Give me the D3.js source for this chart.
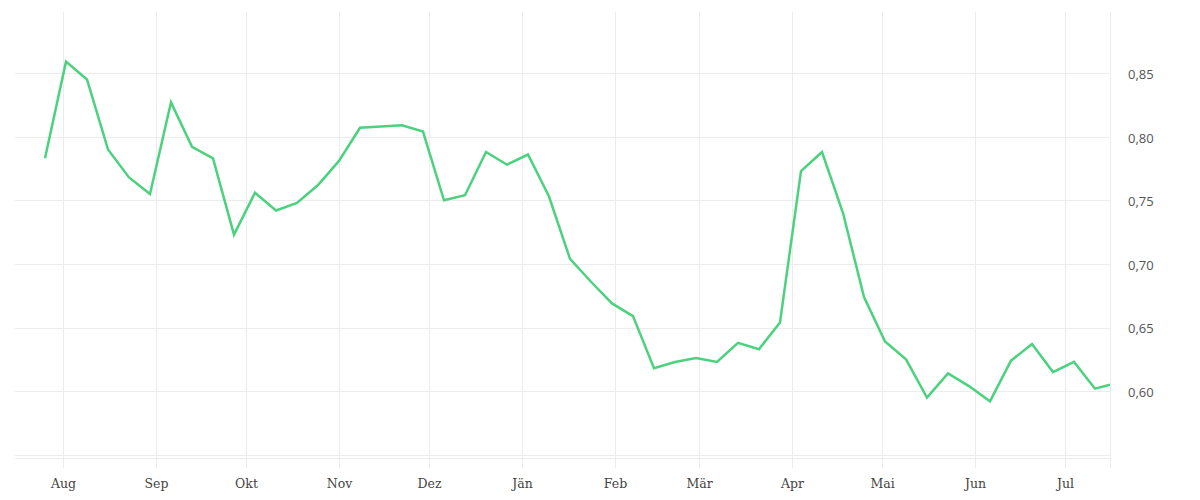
<!DOCTYPE html>
<html>
<head>
	<meta charset="utf-8">
	<script src="https://cdn.jsdelivr.net/npm/d3@7"></script>
	<style>
		html, body {
			padding: 0;
			margin: 0;
			background: #fff;
		}
	</style>
</head>
<body>
	<script>
		var width = 1200,
			height = 500;

		/* data (weekly values) */
		var dates = [
			"2022-07-26", "2022-08-02", "2022-08-09", "2022-08-16", "2022-08-23", "2022-08-30",
			"2022-09-06", "2022-09-13", "2022-09-20", "2022-09-27", "2022-10-04", "2022-10-11",
			"2022-10-18", "2022-10-25", "2022-11-01", "2022-11-08", "2022-11-15", "2022-11-22",
			"2022-11-29", "2022-12-06", "2022-12-13", "2022-12-20", "2022-12-27", "2023-01-03",
			"2023-01-10", "2023-01-17", "2023-01-24", "2023-01-31", "2023-02-07", "2023-02-14",
			"2023-02-21", "2023-02-28", "2023-03-07", "2023-03-14", "2023-03-21", "2023-03-28",
			"2023-04-04", "2023-04-11", "2023-04-18", "2023-04-25", "2023-05-02", "2023-05-09",
			"2023-05-16", "2023-05-23", "2023-05-30", "2023-06-06", "2023-06-13", "2023-06-20",
			"2023-06-27", "2023-07-04", "2023-07-11", "2023-07-16"
		];
		var values = [
			0.783, 0.859, 0.845, 0.790, 0.768, 0.755,
			0.827, 0.792, 0.783, 0.723, 0.756, 0.742,
			0.748, 0.762, 0.781, 0.807, 0.808, 0.809,
			0.804, 0.750, 0.754, 0.788, 0.778, 0.786,
			0.753, 0.704, 0.686, 0.669, 0.659, 0.618,
			0.623, 0.626, 0.623, 0.638, 0.633, 0.654,
			0.773, 0.788, 0.740, 0.674, 0.639, 0.625,
			0.595, 0.614, 0.604, 0.592, 0.624, 0.637,
			0.615, 0.623, 0.602, 0.605
		];
		var monthLabels = ["Jän", "Feb", "Mär", "Apr", "Mai", "Jun", "Jul", "Aug", "Sep", "Okt", "Nov", "Dez"];
		var yGridTicks = [0.55, 0.60, 0.65, 0.70, 0.75, 0.80, 0.85];
		var yLabelTicks = [0.60, 0.65, 0.70, 0.75, 0.80, 0.85];
		var xDomain = ["2022-07-16", "2023-07-16"];
		var yDomain = [0.5475, 0.898];

		var parse = d3.timeParse("%Y-%m-%d");
		var points = dates.map(function(d, i) {
			return { date: parse(d), value: values[i] };
		});

		var plotLeft = 15, plotRight = 1110, plotTop = 12, plotBottom = 458;

		var svg = d3.select("body").append("svg")
			.attr("width", width)
			.attr("height", height);

		var x = d3.scaleTime()
			.domain(xDomain.map(parse))
			.range([plotLeft, plotRight]);

		var y = d3.scaleLinear()
			.domain(yDomain)
			.range([plotBottom, plotTop]);

		var gridColor = "#ececec";

		/* horizontal grid */
		svg.append("g")
			.selectAll("line")
			.data(yGridTicks)
			.join("line")
			.attr("x1", plotLeft)
			.attr("x2", plotRight)
			.attr("y1", function(d) { return Math.round(y(d)) + 0.5; })
			.attr("y2", function(d) { return Math.round(y(d)) + 0.5; })
			.style("stroke", gridColor)
			.style("stroke-width", 1);

		/* vertical grid + x axis */
		var xAxis = d3.axisBottom(x)
			.ticks(d3.timeMonth.every(1))
			.tickSize(-(plotBottom - plotTop) - 10)
			.tickPadding(11)
			.tickFormat(function(d) { return monthLabels[d.getMonth()]; });

		var gx = svg.append("g")
			.attr("transform", "translate(0," + (plotBottom + 10) + ")")
			.call(xAxis);
		gx.select(".domain").remove();
		gx.selectAll(".tick line")
			.style("stroke", gridColor);
		gx.selectAll(".tick text")
			.style("font-family", "'DejaVu Serif', serif")
			.style("font-size", "12.5px")
			.style("fill", "#444");

		/* right edge line and baseline */
		svg.append("line")
			.attr("x1", plotRight + 0.5)
			.attr("x2", plotRight + 0.5)
			.attr("y1", plotTop)
			.attr("y2", plotBottom + 10)
			.style("stroke", gridColor);
		svg.append("line")
			.attr("x1", plotLeft)
			.attr("x2", plotRight)
			.attr("y1", plotBottom + 0.5)
			.attr("y2", plotBottom + 0.5)
			.style("stroke", gridColor);

		/* y labels on the right */
		var fmt = d3.format(".2f");
		svg.append("g")
			.selectAll("text")
			.data(yLabelTicks)
			.join("text")
			.attr("x", plotRight + 18)
			.attr("y", function(d) { return y(d); })
			.attr("dy", "0.45em")
			.text(function(d) { return fmt(d).replace(".", ","); })
			.style("font-family", "'Open Sans', sans-serif")
			.style("font-size", "13px")
			.style("fill", "#555");

		/* the line */
		var line = d3.line()
			.x(function(d) { return x(d.date); })
			.y(function(d) { return y(d.value); });

		svg.append("path")
			.datum(points)
			.attr("d", line)
			.style("fill", "none")
			.style("stroke", "#4cd27e")
			.style("stroke-width", 2.5)
			.style("stroke-linejoin", "miter");
	</script>
</body>
</html>
